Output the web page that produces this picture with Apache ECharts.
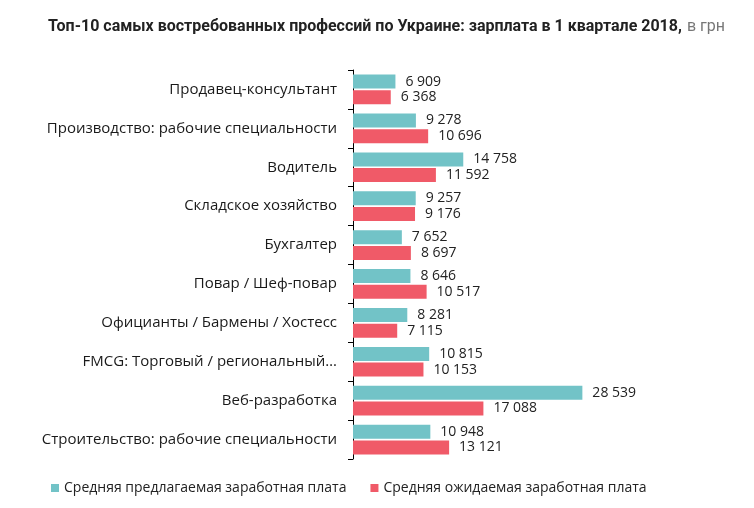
<!DOCTYPE html>
<html><head><meta charset="utf-8">
<script src="https://cdn.jsdelivr.net/npm/echarts@6/dist/echarts.min.js"></script>
<style>html,body{margin:0;padding:0;background:#fff}#c{width:754px;height:508px}</style>
</head><body><div id="c"></div>
<script>
const categories = ["Продавец-консультант","Производство: рабочие специальности","Водитель","Складское хозяйство","Бухгалтер","Повар / Шеф-повар","Официанты / Бармены / Хостесс","FMCG: Торговый / региональный…","Веб-разработка","Строительство: рабочие специальности"];
const offered = [6909, 9278, 14758, 9257, 7652, 8646, 8281, 10815, 28539, 10948];
const expected = [6368, 10696, 11592, 9176, 8697, 10517, 7115, 10153, 17088, 13121];
const seriesNames = ["Средняя предлагаемая заработная плата","Средняя ожидаемая заработная плата"];
const fmt = v => String(v).replace(/\B(?=(\d{3})+(?!\d))/g, ' ');
const chart = echarts.init(document.getElementById('c'));
const lbl = {show:true, position:'right', distance:10, color:'#222', fontFamily:'Open Sans', fontSize:14, formatter:p=>fmt(p.value)};
chart.setOption({
  animation:false,
  title:{left:43, top:13, text:'{b|Топ-10 самых востребованных профессий по Украине: зарплата в 1 квартале 2018,} {n|в грн}',
    textStyle:{rich:{b:{fontFamily:'Roboto',fontWeight:'bold',fontSize:16,color:'#222'},n:{fontFamily:'Roboto',fontWeight:'normal',fontSize:16,color:'#777'}}}},
  legend:{left:46, top:476, itemWidth:8, itemHeight:8, itemGap:24, icon:'rect',
    textStyle:{fontFamily:'Open Sans', fontSize:14, color:'#222'}},
  grid:{left:353, top:70, width:242, bottom:49},
  xAxis:{type:'value', min:2000, max:30000, show:false},
  yAxis:{type:'category', data:categories, inverse:true,
    axisLine:{lineStyle:{color:'#000', width:1}},
    axisTick:{show:true, length:5, lineStyle:{color:'#000'}},
    axisLabel:{margin:16, fontFamily:'Open Sans', fontSize:15, color:'#1a1a1a'}},
  series:[
    {name:seriesNames[0], type:'bar', data:offered, barWidth:14, barGap:'12%', itemStyle:{color:'#72C3C7'}, label:lbl},
    {name:seriesNames[1], type:'bar', data:expected, barWidth:14, itemStyle:{color:'#F05A68'}, label:lbl}
  ]
});
</script></body></html>
